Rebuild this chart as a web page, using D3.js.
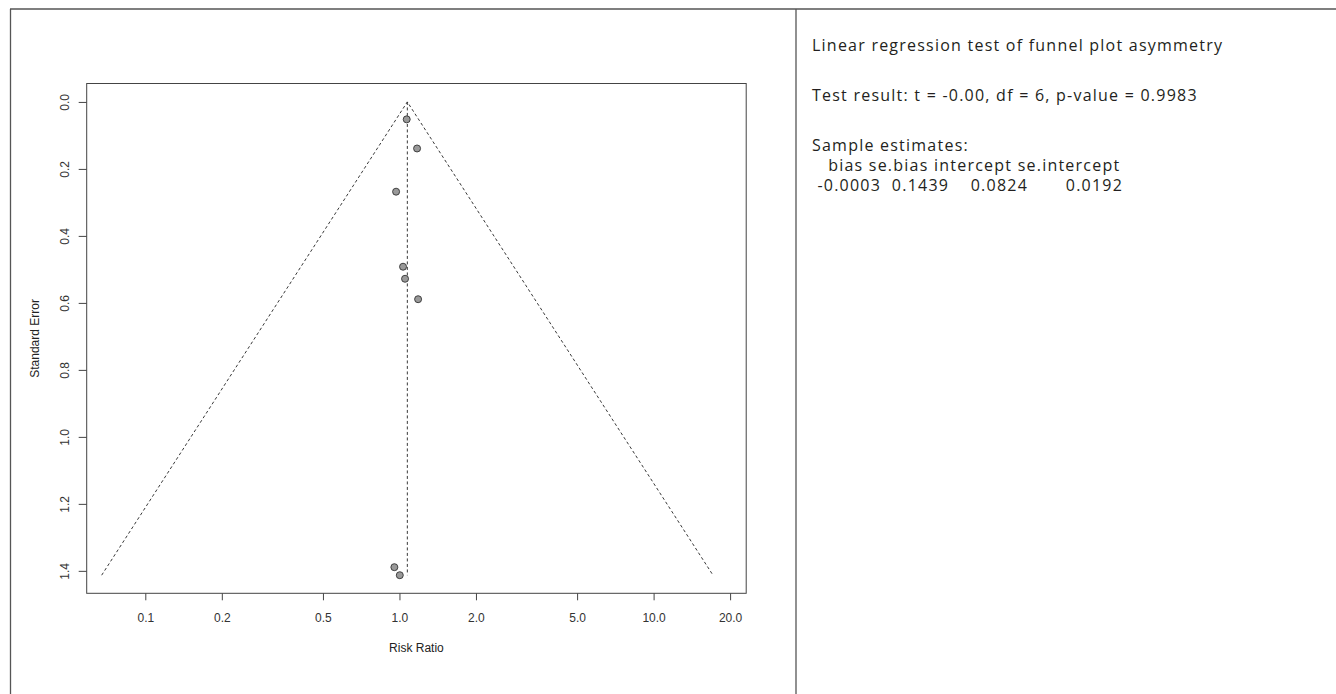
<!DOCTYPE html>
<html>
<head>
<meta charset="utf-8">
<script src="https://cdn.jsdelivr.net/npm/d3@7"></script>
<style>
  html, body { margin: 0; padding: 0; background: #fff; }
  svg { display: block; }
  .note { font-family: "Open Sans", "Noto Sans", sans-serif; fill: #231f20; white-space: pre; }
  .axis text { font-family: "Liberation Sans", Arial, sans-serif; font-size: 12px; fill: #333; }
</style>
</head>
<body>
<svg id="chart" width="1336" height="694"></svg>
<script>
// Study effect sizes (risk ratio) and their standard errors
const studyRR = [1.068, 1.173, 0.970, 1.033, 1.052, 1.184, 0.955, 1.003];
const studySE = [0.052, 0.139, 0.268, 0.492, 0.528, 0.589, 1.389, 1.413];
// Pooled estimate (vertical reference line / funnel apex)
const pooledRR = 1.074;

// Axis ticks
const xTickValues = [0.1, 0.2, 0.5, 1, 2, 5, 10, 20];
const xTickLabels = ["0.1", "0.2", "0.5", "1.0", "2.0", "5.0", "10.0", "20.0"];
const yTickValues = [0, 0.2, 0.4, 0.6, 0.8, 1.0, 1.2, 1.4];
const yTickLabels = ["0.0", "0.2", "0.4", "0.6", "0.8", "1.0", "1.2", "1.4"];

// Egger's regression test output
const testTitle = "Linear regression test of funnel plot asymmetry";
const testResult = "Test result: t = -0.00, df = 6, p-value = 0.9983";
const estimatesHeading = "Sample estimates:";
const estimateNames = ["bias", "se.bias", "intercept", "se.intercept"];
const estimateValues = ["-0.0003", "0.1439", "0.0824", "0.0192"];

const svg = d3.select("#chart");

// ---- frame of the two-cell layout ----
const frame = svg.append("g").attr("stroke", "#555").attr("stroke-width", 1.3);
frame.append("line").attr("x1", 10).attr("x2", 1336).attr("y1", 9).attr("y2", 9);
frame.append("line").attr("x1", 10.5).attr("x2", 10.5).attr("y1", 9).attr("y2", 694);
frame.append("line").attr("x1", 796).attr("x2", 796).attr("y1", 9).attr("y2", 694);

// ---- funnel plot ----
const plot = { left: 86.7, right: 746.2, top: 83.5, bottom: 593.3 };
const x = d3.scaleLog().domain([0.0588, 23.14]).range([plot.left, plot.right]);
const y = d3.scaleLinear().domain([-0.055, 1.467]).range([plot.top, plot.bottom]);

const maxSE = d3.max(studySE);
const z = 1.96;
const funnel = [
  [pooledRR * Math.exp(-z * maxSE), maxSE],
  [pooledRR, 0],
  [pooledRR * Math.exp(z * maxSE), maxSE]
];

const g = svg.append("g");

g.append("path")
  .datum(funnel)
  .attr("d", d3.line().x(d => x(d[0])).y(d => y(d[1])))
  .attr("fill", "none")
  .attr("stroke", "#222")
  .attr("stroke-width", 0.9)
  .attr("stroke-dasharray", "3,2.5");

g.append("line")
  .attr("x1", x(pooledRR)).attr("x2", x(pooledRR))
  .attr("y1", y(0)).attr("y2", y(maxSE))
  .attr("stroke", "#222")
  .attr("stroke-width", 0.9)
  .attr("stroke-dasharray", "3,2.5");

g.selectAll("circle.study")
  .data(d3.range(studyRR.length))
  .join("circle")
  .attr("class", "study")
  .attr("cx", i => x(studyRR[i]))
  .attr("cy", i => y(studySE[i]))
  .attr("r", 3.5)
  .attr("fill", "#999")
  .attr("stroke", "#333")
  .attr("stroke-width", 0.9);

// Box
g.append("rect")
  .attr("x", plot.left).attr("y", plot.top)
  .attr("width", plot.right - plot.left).attr("height", plot.bottom - plot.top)
  .attr("fill", "none").attr("stroke", "#444").attr("stroke-width", 1);

// X axis
const xAxis = g.append("g")
  .attr("class", "axis")
  .attr("transform", `translate(0,${plot.bottom})`)
  .call(d3.axisBottom(x).tickValues(xTickValues)
    .tickFormat((d, i) => xTickLabels[i]).tickSize(7).tickPadding(13));
xAxis.select(".domain").remove();
xAxis.selectAll(".tick line").attr("stroke", "#444");

// Y axis
const yAxis = g.append("g")
  .attr("class", "axis")
  .attr("transform", `translate(${plot.left},0)`)
  .call(d3.axisLeft(y).tickValues(yTickValues)
    .tickFormat((d, i) => yTickLabels[i]).tickSize(8));
yAxis.select(".domain").remove();
yAxis.selectAll(".tick line").attr("stroke", "#444");
yAxis.selectAll(".tick text")
  .attr("x", 0)
  .attr("text-anchor", "middle")
  .attr("transform", "translate(-21.5,0) rotate(-90)")
  .attr("dy", "0.35em");

// Axis titles
g.append("text")
  .attr("x", (plot.left + plot.right) / 2).attr("y", 652)
  .attr("text-anchor", "middle")
  .style("font-family", "Liberation Sans, Arial, sans-serif")
  .style("font-size", "12px").attr("fill", "#222")
  .text("Risk Ratio");

g.append("text")
  .attr("transform", `translate(39,${(plot.top + plot.bottom) / 2}) rotate(-90)`)
  .attr("text-anchor", "middle")
  .style("font-family", "Liberation Sans, Arial, sans-serif")
  .style("font-size", "12px").attr("fill", "#222")
  .text("Standard Error");

// ---- regression test text ----
const notes = svg.append("g");
const tx = 812;
const noteLines = [
  { text: testTitle, y: 51 },
  { text: testResult, y: 101 },
  { text: estimatesHeading, y: 151 },
  { text: "   " + estimateNames.join(" "), y: 171 },
  { text: " " + estimateValues[0] + "  " + estimateValues[1] + "    " + estimateValues[2] + "       " + estimateValues[3], y: 191 }
];
const noteText = notes.selectAll("text")
  .data(noteLines)
  .join("text")
  .attr("class", "note")
  .attr("x", tx)
  .attr("y", d => d.y)
  .attr("xml:space", "preserve")
  .style("font-size", "16px")
  .text(d => d.text);

// Letter spacing so the first line spans its cell width
const first = noteText.node();
const w0 = first.getComputedTextLength();
const ls = Math.max(0, (410 - w0) / (testTitle.length - 1));
noteText.style("letter-spacing", ls + "px");
</script>
</body>
</html>
